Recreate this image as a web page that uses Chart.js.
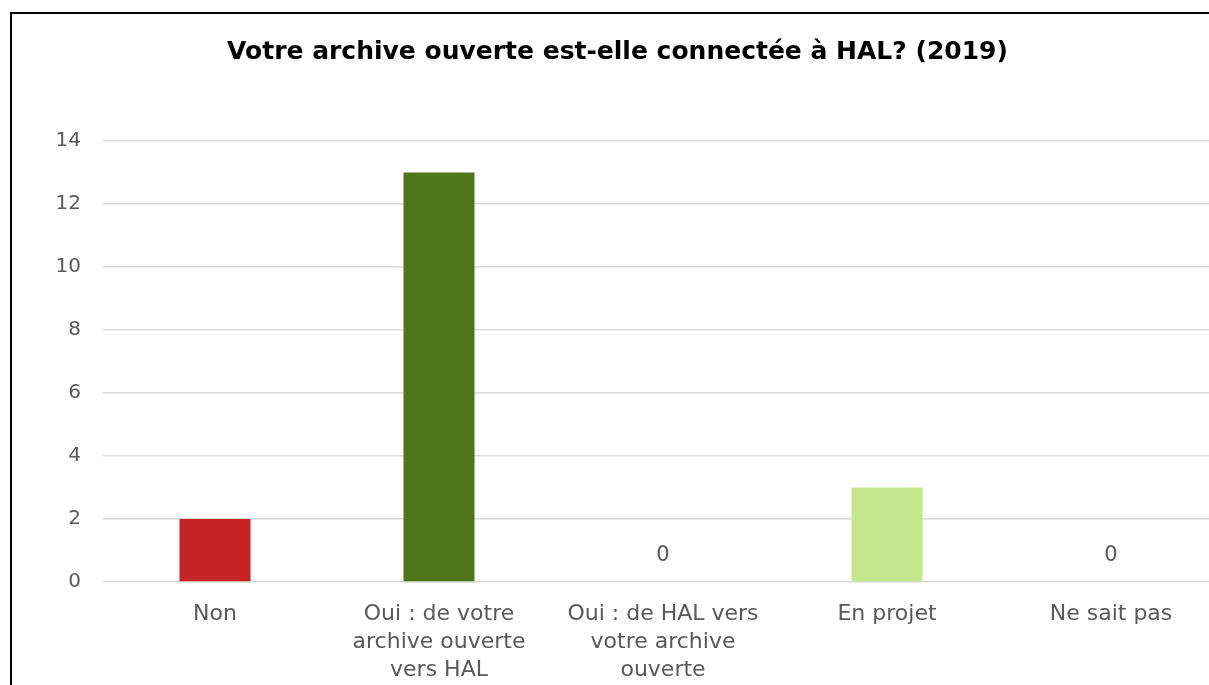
<!DOCTYPE html>
<html>
<head>
<meta charset="utf-8">
<script src="https://cdn.jsdelivr.net/npm/chart.js@4"></script>
<style>
  html, body { margin: 0; padding: 0; background: #fff; overflow: hidden; }
  #box {
    position: absolute; left: 10px; top: 12px;
    width: 1215px; height: 690px;
    border: 2px solid #000;
    background: #fff;
  }
</style>
</head>
<body>
<div id="box"><canvas id="graph" width="1215" height="690"></canvas></div>
<script>
const categories = [
  "Non",
  ["Oui : de votre", "archive ouverte", "vers HAL"],
  ["Oui : de HAL vers", "votre archive", "ouverte"],
  "En projet",
  "Ne sait pas"
];
const counts = [2, 13, 0, 3, 0];
const barColors = ["#c62325", "#4e7518", "#4e7518", "#c5e88e", "#c5e88e"];
const yTicks = [0, 2, 4, 6, 8, 10, 12, 14];

const gray = "#595959";

// Excel only printed the labels on empty bars
const zeroLabels = {
  id: "zeroLabels",
  afterDatasetsDraw(chart) {
    const c = chart.ctx;
    const meta = chart.getDatasetMeta(0);
    c.save();
    c.font = "21px 'DejaVu Sans'";
    c.fillStyle = gray;
    c.textAlign = "center";
    c.textBaseline = "middle";
    meta.data.forEach((bar, i) => {
      if (counts[i] === 0) c.fillText("0", bar.x, bar.y - 26);
    });
    c.restore();
  }
};

new Chart(document.getElementById("graph").getContext("2d"), {
  type: "bar",
  data: {
    labels: categories,
    datasets: [{
      data: counts,
      backgroundColor: barColors,
      borderWidth: 0,
      barPercentage: 0.317,
      categoryPercentage: 1
    }]
  },
  options: {
    responsive: false,
    animation: false,
    layout: { padding: { left: 0, right: 4, top: 0, bottom: 0 } },
    plugins: {
      legend: { display: false },
      tooltip: { enabled: false },
      title: {
        display: true,
        text: "Votre archive ouverte est-elle connectée à HAL? (2019)",
        color: "#000",
        font: { family: "DejaVu Sans", size: 25, weight: "bold", lineHeight: 1.2 },
        padding: { top: 23, bottom: 74 }
      }
    },
    scales: {
      y: {
        min: 0,
        max: 14,
        afterBuildTicks(scale) { scale.ticks = yTicks.map(v => ({ value: v })); },
        afterFit(scale) { scale.width = 91; },
        grid: { color: "#d9d9d9", lineWidth: 1.5, drawTicks: false },
        border: { display: false },
        ticks: { color: gray, font: { family: "DejaVu Sans", size: 20 }, padding: 22 }
      },
      x: {
        afterFit(scale) { scale.height = 122; },
        grid: { display: false, drawTicks: false },
        border: { display: false },
        ticks: {
          color: gray,
          font: { family: "DejaVu Sans", size: 22, lineHeight: "28px" },
          padding: 18, maxRotation: 0, autoSkip: false
        }
      }
    }
  },
  plugins: [zeroLabels]
});
</script>
</body>
</html>
